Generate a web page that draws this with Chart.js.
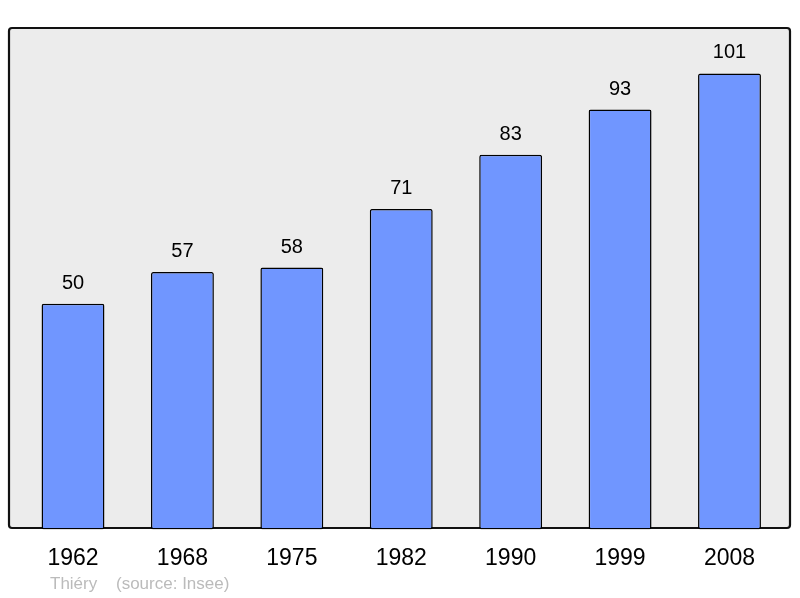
<!DOCTYPE html>
<html>
<head>
<meta charset="utf-8">
<script src="https://cdn.jsdelivr.net/npm/chart.js@4/dist/chart.umd.min.js"></script>
<style>
html,body{margin:0;padding:0;background:#fff;}
#wrap{width:800px;height:598px;position:relative;}
</style>
</head>
<body>
<div id="wrap"><canvas id="c" width="800" height="598"></canvas></div>
<script>
const years = ['1962', '1968', '1975', '1982', '1990', '1999', '2008'];
const population = [50, 57, 58, 71, 83, 93, 101];
const footerAuthor = 'Thiéry';
const footerSource = '(source: Insee)';

const FONT = '"Liberation Sans", Arial, sans-serif';

const boxPlugin = {
  id: 'box',
  beforeDraw(chart) {
    const ctx = chart.ctx;
    ctx.save();
    ctx.fillStyle = '#fff';
    ctx.fillRect(0, 0, chart.width, chart.height);
    ctx.beginPath();
    ctx.roundRect(9, 28, 781, 500, 3);
    ctx.fillStyle = '#ececec';
    ctx.fill();
    ctx.lineWidth = 2.2;
    ctx.strokeStyle = '#111';
    ctx.stroke();
    ctx.restore();
  },
  afterDatasetsDraw(chart) {
    const ctx = chart.ctx;
    const meta = chart.getDatasetMeta(0);
    ctx.save();
    ctx.font = '20px ' + FONT;
    ctx.fillStyle = '#000';
    ctx.textAlign = 'center';
    ctx.textBaseline = 'alphabetic';
    meta.data.forEach((bar, i) => {
      ctx.fillText(String(chart.data.datasets[0].data[i]), bar.x, bar.y - 15);
    });
    ctx.font = '17px ' + FONT;
    ctx.fillStyle = '#bbbbbb';
    ctx.textAlign = 'left';
    ctx.fillText(footerAuthor, 50, 589);
    ctx.fillText(footerSource, 116, 589);
    ctx.restore();
  }
};

new Chart(document.getElementById('c'), {
  type: 'bar',
  data: {
    labels: years,
    datasets: [{
      data: population,
      backgroundColor: '#7096ff',
      borderColor: '#000',
      borderWidth: 1.5,
      borderRadius: 2,
      borderSkipped: false,
      categoryPercentage: 1,
      barPercentage: 0.575
    }]
  },
  options: {
    responsive: false,
    animation: false,
    layout: { padding: { left: 18.3, right: 15.8, top: 27, bottom: 11 } },
    plugins: { legend: { display: false }, tooltip: { enabled: false } },
    scales: {
      x: {
        grid: { display: false, drawTicks: false },
        border: { display: false },
        ticks: { color: '#000', font: { size: 23, family: FONT }, padding: 15, maxRotation: 0 }
      },
      y: {
        display: false,
        min: 0,
        max: 111.3
      }
    }
  },
  plugins: [boxPlugin]
});
</script>
</body>
</html>
